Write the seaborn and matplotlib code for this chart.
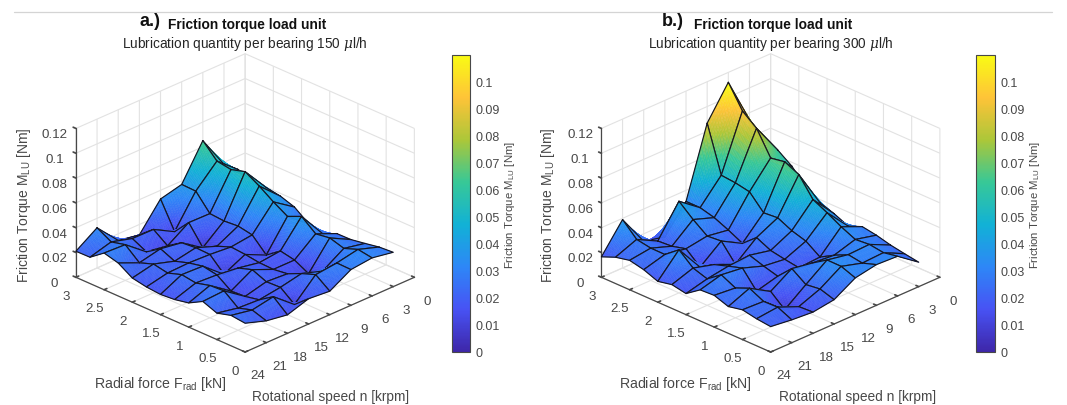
import numpy as np
import matplotlib
matplotlib.use("Agg")
import matplotlib.pyplot as plt
from matplotlib.cm import ScalarMappable
from matplotlib.colors import Normalize
from matplotlib.lines import Line2D
import seaborn as sns

# axes
force_kn = [3, 2.75, 2.5, 2.25, 2, 1.75, 1.5, 1.25, 1, 0.75, 0.5, 0.25, 0]
speed_krpm = [3, 6, 9, 12, 15, 18, 21, 24]
force_ticks = [0, 0.5, 1, 1.5, 2, 2.5, 3]
force_labels = ["0", "0.5", "1", "1.5", "2", "2.5", "3"]
speed_ticks = [0, 3, 6, 9, 12, 15, 18, 21, 24]
speed_labels = ["0", "3", "6", "9", "12", "15", "18", "21", "24"]
torque_ticks = [0, 0.02, 0.04, 0.06, 0.08, 0.1, 0.12]
torque_labels = ["0", "0.02", "0.04", "0.06", "0.08", "0.1", "0.12"]
cbar_ticks = [0, 0.01, 0.02, 0.03, 0.04, 0.05, 0.06, 0.07, 0.08, 0.09, 0.1]
cbar_labels = ["0", "0.01", "0.02", "0.03", "0.04", "0.05", "0.06", "0.07", "0.08", "0.09", "0.1"]
cbar_max = 0.1099

# friction torque in Nm, 150 ul/h, one list per speed, force from 3 down to 0
a_n3 = [.0384, .0392, .0370, .0347, .0328, .0290, .0206, .0176, .0227, .0229, .0248, .0269, .0277]
a_n6 = [.0650, .0535, .0517, .0550, .0484, .0407, .0340, .0390, .0300, .0317, .0283, .0325, .0307]
a_n9 = [.0372, .0368, .0237, .0228, .0237, .0216, .0104, .0187, .0164, .0104, .0176, .0291, .0288]
a_n12 = [.0330, .0117, .0240, .0088, .0150, .0194, .0184, .0168, .0164, .0179, .0231, .0272, .0189]
a_n15 = [.0116, .0210, .0128, .0203, .0213, .0209, .0100, .0200, .0237, .0190, .0195, .0107, .0204]
a_n18 = [.0147, .0212, .0155, .0230, .0180, .0216, .0240, .0220, .0140, .0147, .0170, .0245, .0149]
a_n21 = [.0324, .0260, .0288, .0192, .0232, .0210, .0247, .0230, .0260, .0267, .0179, .0213, .0176]
a_n24 = [.0210, .0212, .0296, .0266, .0195, .0173, .0163, .0172, .0195, .0257, .0213, .0245, .0232]

# same for 300 ul/h
b_n3 = [.0744, .0630, .0600, .0520, .0400, .0325, .0287, .0237, .0283, .0264, .0235, .0215, .0197]
b_n6 = [.1120, .0939, .0850, .0660, .0680, .0627, .0476, .0420, .0357, .0305, .0315, .0299, .0320]
b_n9 = [.0866, .0496, .0485, .0463, .0344, .0354, .0300, .0266, .0188, .0253, .0308, .0290, .0328]
b_n12 = [.0310, .0310, .0280, .0230, .0173, .0270, .0216, .0195, .0177, .0267, .0340, .0339, .0296]
b_n15 = [.0100, .0437, .0340, .0257, .0267, .0130, .0253, .0216, .0184, .0296, .0217, .0232, .0196]
b_n18 = [.0140, .0192, .0200, .0230, .0132, .0203, .0240, .0275, .0139, .0187, .0090, .0165, .0171]
b_n21 = [.0390, .0280, .0260, .0259, .0347, .0250, .0213, .0296, .0240, .0288, .0232, .0236, .0184]
b_n24 = [.0165, .0212, .0237, .0212, .0168, .0192, .0170, .0250, .0256, .0216, .0240, .0218, .0205]

parula_anchors = [(0.2422, 0.1504, 0.6603), (0.2810, 0.3228, 0.9579), (0.1786, 0.5289, 0.9682),
                  (0.0689, 0.6948, 0.8394), (0.2161, 0.7843, 0.5923), (0.6720, 0.7793, 0.2227),
                  (0.9970, 0.7659, 0.2199), (0.9769, 0.9839, 0.0805)]

sns.set_theme(style="white")
plt.rcParams["font.family"] = ["Liberation Sans", "DejaVu Sans"]
plt.rcParams["mathtext.fontset"] = "custom"
plt.rcParams["mathtext.rm"] = "Liberation Sans"
plt.rcParams["mathtext.it"] = "DejaVu Serif:italic"
plt.rcParams["mathtext.default"] = "regular"
plt.rcParams["grid.color"] = "#e2e2e2"
plt.rcParams["grid.linewidth"] = 0.8
plt.rcParams["axes3d.automargin"] = False

parula = sns.blend_palette(parula_anchors, n_colors=256, as_cmap=True)
norm = Normalize(0, cbar_max)
W, H = 1067, 406
GREY = "#484848"


def draw_panel(rect, rows):
    ax = fig.add_axes([rect[0] / W, 1 - (rect[1] + rect[3]) / H, rect[2] / W, rect[3] / H],
                      projection="3d", computed_zorder=False)
    ax.set_proj_type("ortho")
    ax.view_init(elev=26.2, azim=135)
    ax.set_box_aspect((714, 714, 495), zoom=0.963)
    ax.patch.set_alpha(0)

    Z = np.array(rows)
    s = np.linspace(0, 1, 12)
    order = 0
    # back corner to front corner, so nearer cells paint over farther ones
    for i in range(len(force_kn) - 1):
        for j in range(len(speed_krpm) - 1):
            f0, f1 = force_kn[i], force_kn[i + 1]
            n0, n1 = speed_krpm[j], speed_krpm[j + 1]
            Xc, Yc = np.meshgrid(f0 + (f1 - f0) * s, n0 + (n1 - n0) * s)
            Zc = (np.outer(1 - s, 1 - s) * Z[j, i] + np.outer(1 - s, s) * Z[j, i + 1]
                  + np.outer(s, 1 - s) * Z[j + 1, i] + np.outer(s, s) * Z[j + 1, i + 1])
            cols = parula(norm((Zc[:-1, :-1] + Zc[1:, 1:]) / 2))
            ax.plot_surface(Xc, Yc, Zc, facecolors=cols, shade=False, rstride=1, cstride=1,
                            linewidth=0.3, zorder=order)
            ax.plot([f0, f1, f1, f0, f0], [n0, n0, n1, n1, n0],
                    [Z[j, i], Z[j, i + 1], Z[j + 1, i + 1], Z[j + 1, i], Z[j, i]],
                    color="#151520", lw=0.85, zorder=order + 0.5)
            order += 1

    ax.set_xlim(0, 3)
    ax.set_ylim(0, 24)
    ax.set_zlim(0, 0.12)
    ax.set_xticks(force_ticks, force_labels)
    ax.set_yticks(speed_ticks, speed_labels)
    ax.set_zticks(torque_ticks, torque_labels)
    ax.tick_params(labelsize=9.6, labelcolor=GREY, color=GREY, pad=1)
    ax.tick_params(axis="x", pad=0)
    ax.tick_params(axis="y", pad=3)
    ax.tick_params(axis="z", pad=1)
    for axis in (ax.xaxis, ax.yaxis, ax.zaxis):
        axis.set_pane_color((1, 1, 1, 0))
        axis.pane.set_edgecolor("#dcdcdc")
        axis.line.set_color(GREY)
        axis.line.set_linewidth(0.9)
        axis._axinfo["tick"]["inward_factor"] = 0.0
        axis._axinfo["tick"]["outward_factor"] = 0.2
    ax.zaxis._axinfo["juggled"] = (1, 2, 0)
    return ax


def draw_cbar(x0, x1, y0=56, y1=353):
    cax = fig.add_axes([x0 / W, 1 - y1 / H, (x1 - x0) / W, (y1 - y0) / H])
    cb = fig.colorbar(ScalarMappable(norm=norm, cmap=parula), cax=cax)
    cb.set_ticks(cbar_ticks, labels=cbar_labels)
    cb.ax.tick_params(direction="in", length=2, width=0.7, labelsize=9, labelcolor=GREY, color=GREY, pad=4, right=True)
    cb.outline.set_edgecolor(GREY)
    cb.outline.set_linewidth(0.8)
    cb.set_label(r"Friction Torque M$_{LU}$ [Nm]", fontsize=8.2, color=GREY, labelpad=2)


def px_text(x, y, txt, **kw):
    fig.text(x / W, 1 - y / H, txt, ha=kw.pop("ha", "center"), va=kw.pop("va", "center"), **kw)


fig = plt.figure(figsize=(W / 100, H / 100), dpi=100, facecolor="white")
fig.add_artist(Line2D([14 / W, 1052 / W], [1 - 12.5 / H, 1 - 12.5 / H], color="#d4d4d4", lw=0.9))

draw_panel((10, 19, 460, 380), [a_n3, a_n6, a_n9, a_n12, a_n15, a_n18, a_n21, a_n24])
draw_panel((535.5, 19, 460, 380), [b_n3, b_n6, b_n9, b_n12, b_n15, b_n18, b_n21, b_n24])
draw_cbar(452, 470)
draw_cbar(976, 995)

# titles and axis names, first panel then second
for cx, tag_x, qty, z_x, f_x, n_x, tag in [(245, 150, "150", 24, 160, 331, "a.)"), (771, 673, "300", 548, 685, 858, "b.)")]:
    px_text(tag_x, 22, tag, fontsize=13, fontweight="bold", color="#111111")
    px_text(cx + 2, 25, "Friction torque load unit", fontsize=9.9, fontweight="bold", color="#111111")
    px_text(cx, 44, r"Lubrication quantity per bearing " + qty + r" $\mathit{\mu}$l/h", fontsize=9.85, color="#262626")
    px_text(z_x, 205, r"Friction Torque M$_{LU}$ [Nm]", fontsize=10, color=GREY, rotation=90)
    px_text(f_x, 384, r"Radial force F$_{rad}$ [kN]", fontsize=10.2, color=GREY)
    px_text(n_x, 397, "Rotational speed n [krpm]", fontsize=9.9, color=GREY)

fig.savefig("out.png", dpi=100)
